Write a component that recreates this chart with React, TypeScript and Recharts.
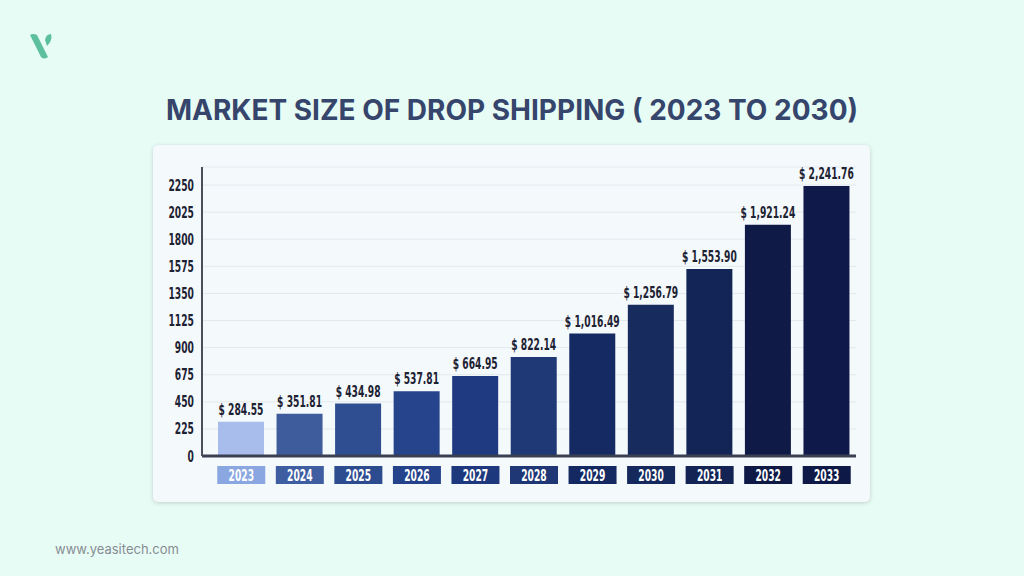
import React from 'react';
import { BarChart, Bar, XAxis, YAxis, CartesianGrid, LabelList, Cell } from 'recharts';

const years = ['2023', '2024', '2025', '2026', '2027', '2028', '2029', '2030', '2031', '2032', '2033'];
const marketSize = [284.55, 351.81, 434.98, 537.81, 664.95, 822.14, 1016.49, 1256.79, 1553.9, 1921.24, 2241.76];
const yTicks = [0, 225, 450, 675, 900, 1125, 1350, 1575, 1800, 2025, 2250];
const barColors = ['#a9bdec', '#3e5b9c', '#2f4e91', '#25448b', '#1f3a80', '#1f3876', '#152a63', '#172b5f', '#132456', '#0f1a47', '#0f1a4a'];
const boxColors = ['#8aa7e2', '#3f5da1', '#2d4c90', '#24438a', '#1e387e', '#1f3774', '#142862', '#16295d', '#122354', '#0e1945', '#0e1947'];

const title = 'MARKET SIZE OF DROP SHIPPING ( 2023 TO 2030)';
const footer = 'www.yeasitech.com';

const data = years.map((y, i) => ({ year: y, value: marketSize[i] }));

const COND = "'DejaVu Sans Condensed', 'DejaVu Sans', sans-serif";
const SQUEEZE = 0.68;

const fmt = (v: number) =>
  '$ ' + v.toLocaleString('en-US', { minimumFractionDigits: 2, maximumFractionDigits: 2 });

const XTick = (props: any) => {
  const { x, y, payload } = props;
  const idx = years.indexOf(String(payload.value));
  return (
    <g>
      <rect x={x - 24} y={y + 2} width={48} height={18} fill={boxColors[idx]} />
      <text
        transform={`translate(${x},${y + 16.5}) scale(${SQUEEZE},1)`}
        textAnchor="middle"
        fill="#ffffff"
        fontFamily={COND}
        fontWeight={700}
        fontSize={15}
      >
        {payload.value}
      </text>
    </g>
  );
};

const YTick = (props: any) => {
  const { x, y, payload } = props;
  return (
    <text
      transform={`translate(${x},${y + 5.5}) scale(${SQUEEZE},1)`}
      textAnchor="end"
      fill="#1d2233"
      fontFamily={COND}
      fontWeight={700}
      fontSize={15}
    >
      {payload.value}
    </text>
  );
};

const BarLabel = (props: any) => {
  const { x, y, width, value } = props;
  return (
    <text
      transform={`translate(${Number(x) + Number(width) / 2},${Number(y) - 7}) scale(${SQUEEZE},1)`}
      textAnchor="middle"
      fill="#1d2233"
      fontFamily={COND}
      fontWeight={700}
      fontSize={15}
    >
      {fmt(Number(value))}
    </text>
  );
};

export default function App() {
  return (
    <div
      style={{
        position: 'absolute',
        left: 0,
        top: 0,
        width: 1024,
        height: 576,
        background: '#e8fcf6',
        overflow: 'hidden',
        fontFamily: 'Inter, sans-serif',
      }}
    >
      <svg style={{ position: 'absolute', left: 0, top: 0 }} width={80} height={80}>
        <path d="M30 35 Q33 33 37 35 L48 57 Q44 60 41 57 Z" fill="#5cc09e" />
        <path d="M45 40 Q46 34 51 34 Q53 40 47 46 Z" fill="#5cc09e" />
      </svg>
      <div
        style={{
          position: 'absolute',
          left: 0,
          top: 93,
          width: 1024,
          textAlign: 'center',
          fontSize: 28,
          fontWeight: 700,
          color: '#36456b',
          lineHeight: '34px',
        }}
      >
        {title}
      </div>
      <div
        style={{
          position: 'absolute',
          left: 153,
          top: 145,
          width: 717,
          height: 357,
          background: '#f4f9fb',
          borderRadius: 5,
          boxShadow: '0 1px 4px rgba(0,0,0,0.18)',
        }}
      >
        <BarChart
          width={717}
          height={357}
          data={data}
          margin={{ top: 22, right: 14, left: 0, bottom: 0 }}
          barSize={46}
        >
          <CartesianGrid vertical={false} stroke="#e2e9ed" strokeWidth={1} />
          <XAxis
            dataKey="year"
            height={46}
            padding={{ left: 10, right: 0 }}
            axisLine={{ stroke: '#3a4054', strokeWidth: 3 }}
            tickLine={false}
            tick={<XTick />}
            interval={0}
          />
          <YAxis
            width={49}
            domain={[0, 2400]}
            ticks={yTicks}
            interval={0}
            axisLine={{ stroke: '#4a4f5c', strokeWidth: 2 }}
            tickLine={false}
            tick={<YTick />}
          />
          <Bar dataKey="value" isAnimationActive={false}>
            {data.map((d, i) => (
              <Cell key={d.year} fill={barColors[i]} />
            ))}
            <LabelList dataKey="value" position="top" content={<BarLabel />} />
          </Bar>
        </BarChart>
      </div>
      <div
        style={{
          position: 'absolute',
          left: 55,
          top: 541,
          fontSize: 13,
          color: '#868c92',
        }}
      >
        {footer}
      </div>
    </div>
  );
}
